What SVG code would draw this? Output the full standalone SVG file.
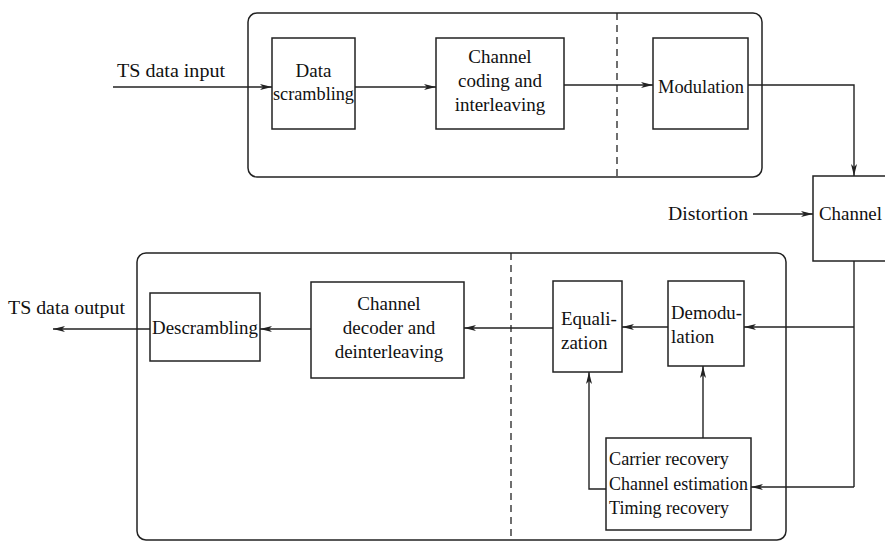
<svg xmlns="http://www.w3.org/2000/svg" width="885" height="541" viewBox="0 0 885 541">
<style>
.box{fill:#fff;stroke:#222;stroke-width:1.5}
.frame{fill:none;stroke:#222;stroke-width:1.5}
.dash{fill:none;stroke:#222;stroke-width:1.3;stroke-dasharray:7,5}
.ln{fill:none;stroke:#222;stroke-width:1.4;marker-end:url(#ah)}
.pl{fill:none;stroke:#222;stroke-width:1.4}
text{font-family:"Liberation Serif","Times New Roman",serif;font-size:19px;fill:#111}
.c{text-anchor:middle}
</style>
<defs>
<marker id="ah" viewBox="0 0 12 6" refX="12" refY="3" markerWidth="12" markerHeight="6" markerUnits="userSpaceOnUse" orient="auto">
<path d="M0,0 L12,3 L0,6 L3,3 Z" fill="#222"/>
</marker>
</defs>
<rect x="248" y="13" width="514" height="164" rx="9" class="frame"/>
<line x1="617" y1="13" x2="617" y2="177" class="dash"/>
<rect x="137" y="253" width="649" height="287" rx="9" class="frame"/>
<line x1="511" y1="253" x2="511" y2="541" class="dash"/>
<g id="connectors">
<line x1="113" y1="87" x2="272" y2="87" class="ln"/>
<line x1="355" y1="87" x2="436" y2="87" class="ln"/>
<line x1="564" y1="85" x2="653" y2="85" class="ln"/>
<polyline points="748,85 854,85 854,176" class="ln"/>
<line x1="753" y1="214" x2="813" y2="214" class="ln"/>
<polyline points="854,261 854,487" class="pl"/>
<line x1="854" y1="327" x2="744" y2="327" class="ln"/>
<line x1="854" y1="487" x2="751" y2="487" class="ln"/>
<line x1="668" y1="327" x2="622" y2="327" class="ln"/>
<line x1="553" y1="328" x2="464" y2="328" class="ln"/>
<line x1="311" y1="329" x2="260" y2="329" class="ln"/>
<line x1="150" y1="329" x2="53" y2="329" class="ln"/>
<line x1="703" y1="438" x2="703" y2="366" class="ln"/>
<polyline points="606,489 589,489 589,372" class="ln"/>
</g>
<text x="117" y="77" textLength="108" lengthAdjust="spacingAndGlyphs">TS data input</text>
<text x="8" y="314" textLength="117" lengthAdjust="spacingAndGlyphs">TS data output</text>
<text x="668" y="220" textLength="80" lengthAdjust="spacingAndGlyphs">Distortion</text>
<g id="scrambling"><rect x="272" y="38" width="83" height="91" class="box"/><text x="313.5" y="77" class="c">Data</text><text x="313.5" y="100" class="c" textLength="81" lengthAdjust="spacingAndGlyphs">scrambling</text></g>
<g id="coding"><rect x="436" y="38" width="128" height="91" class="box"/><text x="500" y="63" class="c">Channel</text><text x="500" y="87" class="c">coding and</text><text x="500" y="111" class="c">interleaving</text></g>
<g id="modulation"><rect x="653" y="38" width="95" height="91" class="box"/><text x="701" y="93" class="c" textLength="86" lengthAdjust="spacingAndGlyphs">Modulation</text></g>
<g id="channel"><rect x="813" y="176" width="75" height="85" class="box"/><text x="819" y="220" textLength="63" lengthAdjust="spacingAndGlyphs">Channel</text></g>
<g id="descrambling"><rect x="150" y="293" width="110" height="68" class="box"/><text x="205" y="334" class="c" textLength="106" lengthAdjust="spacingAndGlyphs">Descrambling</text></g>
<g id="decoder"><rect x="311" y="282" width="153" height="96" class="box"/><text x="389" y="310" class="c">Channel</text><text x="389" y="334" class="c">decoder and</text><text x="389" y="358" class="c">deinterleaving</text></g>
<g id="equalization"><rect x="553" y="281" width="69" height="91" class="box"/><text x="561" y="325">Equali-</text><text x="561" y="349">zation</text></g>
<g id="demodulation"><rect x="668" y="281" width="76" height="85" class="box"/><text x="671" y="319" textLength="71" lengthAdjust="spacingAndGlyphs">Demodu-</text><text x="671" y="343">lation</text></g>
<g id="recovery"><rect x="606" y="438" width="145" height="92" class="box"/><text x="609" y="465" textLength="120" lengthAdjust="spacingAndGlyphs">Carrier recovery</text><text x="609" y="490" textLength="139" lengthAdjust="spacingAndGlyphs">Channel estimation</text><text x="609" y="514" textLength="120" lengthAdjust="spacingAndGlyphs">Timing recovery</text></g>
</svg>
